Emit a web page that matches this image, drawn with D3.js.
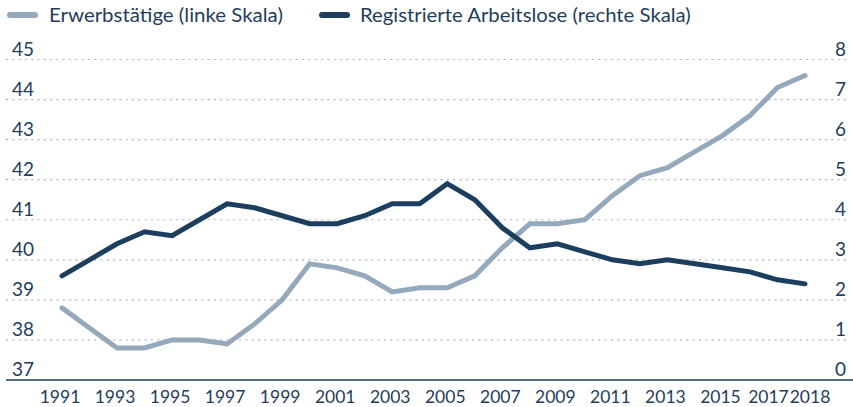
<!DOCTYPE html>
<html>
<head>
<meta charset="utf-8">
<script src="https://cdn.jsdelivr.net/npm/d3@7"></script>
<style>
  body { margin: 0; background: #fff; }
  svg text { font-family: Lato, "Open Sans", sans-serif; fill: #1f3d5c; }
</style>
</head>
<body>
<div id="chart"></div>
<script>
// years on the x axis
const years = d3.range(1991, 2019);
// Erwerbstätige in Mio. (linke Skala)
const erwerbstaetige = [38.8, 38.3, 37.8, 37.8, 38.0, 38.0, 37.9, 38.4, 39.0, 39.9,
  39.8, 39.6, 39.2, 39.3, 39.3, 39.6, 40.3, 40.9, 40.9, 41.0,
  41.6, 42.1, 42.3, 42.7, 43.1, 43.6, 44.3, 44.6];
// Registrierte Arbeitslose in Mio. (rechte Skala)
const arbeitslose = [2.6, 3.0, 3.4, 3.7, 3.6, 4.0, 4.4, 4.3, 4.1, 3.9,
  3.9, 4.1, 4.4, 4.4, 4.9, 4.5, 3.8, 3.3, 3.4, 3.2,
  3.0, 2.9, 3.0, 2.9, 2.8, 2.7, 2.5, 2.4];
const xTickYears = [1991, 1993, 1995, 1997, 1999, 2001, 2003, 2005, 2007, 2009, 2011, 2013, 2015, 2017, 2018];
const leftTicks = [37, 38, 39, 40, 41, 42, 43, 44, 45];
const rightTicks = [0, 1, 2, 3, 4, 5, 6, 7, 8];
const legendLabels = ["Erwerbstätige (linke Skala)", "Registrierte Arbeitslose (rechte Skala)"];

const width = 853, height = 407;
const light = "#95a9bc", dark = "#1d3f5f";

const svg = d3.select("#chart").append("svg")
  .attr("width", width)
  .attr("height", height);

const x = d3.scaleLinear().domain([1991, 2018]).range([62, 805]);
const yL = d3.scaleLinear().domain([37, 45]).range([380, 59.5]);
const yR = d3.scaleLinear().domain([0, 8]).range([380, 59.5]);

// dotted gridlines
svg.append("g").selectAll("line")
  .data(leftTicks.slice(1))
  .enter().append("line")
  .attr("x1", 6).attr("x2", 848)
  .attr("y1", d => yL(d)).attr("y2", d => yL(d))
  .attr("stroke", "#a7b6c4")
  .attr("stroke-width", 1.2)
  .attr("stroke-dasharray", "2 4.3");

// baseline
svg.append("line")
  .attr("x1", 6).attr("x2", 853)
  .attr("y1", yL(37)).attr("y2", yL(37))
  .attr("stroke", dark).attr("stroke-width", 1.5);

// left axis labels
svg.append("g").selectAll("text")
  .data(leftTicks)
  .enter().append("text")
  .attr("x", 12)
  .attr("y", d => yL(d) - 4)
  .style("font-size", "19px")
  .text(d => d);

// right axis labels
svg.append("g").selectAll("text")
  .data(rightTicks)
  .enter().append("text")
  .attr("x", 846)
  .attr("y", d => yR(d) - 4)
  .attr("text-anchor", "end")
  .style("font-size", "19px")
  .text(d => d);

// x axis labels (2017/2018 nudged apart like the original)
const nudge = { 2017: -7, 2018: 7 };
svg.append("g").selectAll("text")
  .data(xTickYears)
  .enter().append("text")
  .attr("x", d => x(d) - 2 + (nudge[d] || 0))
  .attr("y", 403)
  .attr("text-anchor", "middle")
  .style("font-size", "17.5px")
  .text(d => d);

// lines
const lineL = d3.line().x((d, i) => x(years[i])).y(d => yL(d));
const lineR = d3.line().x((d, i) => x(years[i])).y(d => yR(d));

svg.append("path")
  .datum(erwerbstaetige)
  .attr("d", lineL)
  .attr("fill", "none")
  .attr("stroke", light)
  .attr("stroke-width", 5)
  .attr("stroke-linecap", "round");

svg.append("path")
  .datum(arbeitslose)
  .attr("d", lineR)
  .attr("fill", "none")
  .attr("stroke", dark)
  .attr("stroke-width", 5)
  .attr("stroke-linecap", "round");

// legend - the original uses a narrower face, so squeeze Lato a bit
const legend = [
  { label: legendLabels[0], color: light, x: 10, tx: 49, len: 234 },
  { label: legendLabels[1], color: dark, x: 322, tx: 360, len: 331 }
];
const lg = svg.append("g").selectAll("g").data(legend).enter().append("g");
lg.append("line")
  .attr("x1", d => d.x).attr("x2", d => d.x + 25)
  .attr("y1", 15).attr("y2", 15)
  .attr("stroke", d => d.color)
  .attr("stroke-width", 6)
  .attr("stroke-linecap", "round");
lg.append("text")
  .style("font-size", "20px")
  .text(d => d.label)
  .attr("transform", function(d) {
    const w = this.getComputedTextLength();
    return "translate(" + d.tx + ",22) scale(" + (d.len / w) + ",1)";
  });
</script>
</body>
</html>
